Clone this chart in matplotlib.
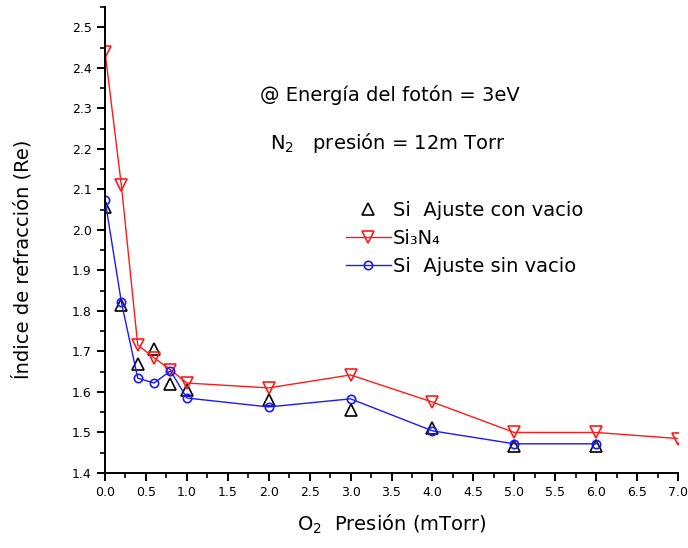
import numpy as np
import matplotlib.pyplot as plt
from matplotlib.ticker import MultipleLocator

plt.rcParams['font.family'] = ['DejaVu Sans']

# O2 pressure (mTorr)
x_nitruro = [0.0, 0.2, 0.4, 0.6, 0.8, 1.0, 2.0, 3.0, 4.0, 5.0, 6.0, 7.0]
x_si = [0.0, 0.2, 0.4, 0.6, 0.8, 1.0, 2.0, 3.0, 4.0, 5.0, 6.0]

# refractive index values
n_si3n4 = [2.44, 2.11, 1.716, 1.684, 1.655, 1.622, 1.61, 1.642, 1.575, 1.50, 1.50, 1.485]
n_sin_vacio = [2.074, 1.822, 1.634, 1.622, 1.652, 1.585, 1.563, 1.583, 1.504, 1.472, 1.472]
n_con_vacio = [2.057, 1.815, 1.67, 1.705, 1.62, 1.605, 1.58, 1.556, 1.51, 1.467, 1.467]

fig = plt.figure(figsize=(6.88, 5.48), dpi=100)
ax = fig.add_axes([0.1526, 0.1369, 0.8329, 0.8503])

ax.plot(x_si, n_con_vacio, linestyle='none', marker='^', markersize=8,
        markerfacecolor='none', markeredgecolor='black', markeredgewidth=1.2,
        label='Si  Ajuste con vacio')
ax.plot(x_nitruro, n_si3n4, color='#ff1a1a', lw=1.0, marker='v', markersize=9,
        markerfacecolor='none', markeredgecolor='#ff1a1a', markeredgewidth=1.2,
        label='Si₃N₄')
ax.plot(x_si, n_sin_vacio, color='#1a1aff', lw=1.0, marker='o', markersize=6,
        markerfacecolor='none', markeredgecolor='#1a1aff', markeredgewidth=1.2,
        label='Si  Ajuste sin vacio')

ax.set_xlim(0, 7.0)
ax.set_ylim(1.4, 2.55)
ax.xaxis.set_major_locator(MultipleLocator(0.5))
ax.xaxis.set_minor_locator(MultipleLocator(0.25))
ax.yaxis.set_major_locator(MultipleLocator(0.1))
ax.yaxis.set_minor_locator(MultipleLocator(0.05))
ax.xaxis.set_major_formatter(plt.FormatStrFormatter('%.1f'))
ax.yaxis.set_major_formatter(plt.FormatStrFormatter('%.1f'))

for side in ['top', 'right']:
    ax.spines[side].set_visible(False)
for side in ['left', 'bottom']:
    ax.spines[side].set_linewidth(1.4)
ax.tick_params(which='major', direction='out', length=6, width=1.4, labelsize=9)
ax.tick_params(which='minor', direction='out', length=3.5, width=1.2)

ax.set_xlabel('O$_2$  Presión (mTorr)', fontsize=14, labelpad=10)
fig.text(22 / 688, 1 - 259 / 548, 'Índice de refracción (Re)', fontsize=14,
         rotation=90, ha='center', va='center')

fig.text(260 / 688, 1 - 95 / 548, '@ Energía del fotón = 3eV', fontsize=14, va='center')
fig.text(270 / 688, 1 - 143 / 548, 'N$_2$   presión = 12m Torr', fontsize=14, va='center')

ax.legend(loc='upper left', bbox_to_anchor=(346 / 688, 1 - 201 / 548),
          bbox_transform=fig.transFigure, frameon=False, fontsize=14,
          handlelength=2.3, handletextpad=0.1, borderpad=0, borderaxespad=0,
          labelspacing=0.45)

fig.savefig('out.png', dpi=100)
